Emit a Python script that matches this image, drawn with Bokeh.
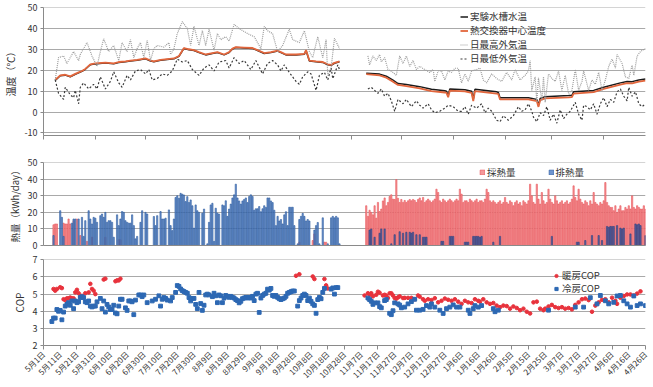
import math
from bokeh.plotting import figure
from bokeh.layouts import column
from bokeh.models import Range1d, FixedTicker, Legend, LegendItem, AllLabels
from bokeh.embed import file_html
from bokeh.resources import INLINE

# ---------------------------------------------------------------
# x axis: day number counted from 5月1日
# ---------------------------------------------------------------
month_start_days = [0, 31, 61, 92, 123, 153, 184, 214, 245, 276, 304, 335]
date_tick_days = list(range(0, 361, 10))
date_tick_labels = ["5月1日", "5月11日", "5月21日", "5月31日", "6月10日", "6月20日",
                    "6月30日", "7月10日", "7月20日", "7月30日", "8月9日", "8月19日",
                    "8月29日", "9月8日", "9月18日", "9月28日", "10月8日", "10月18日",
                    "10月28日", "11月7日", "11月17日", "11月27日", "12月7日", "12月17日",
                    "12月27日", "1月6日", "1月16日", "1月26日", "2月5日", "2月15日",
                    "2月25日", "3月7日", "3月17日", "3月27日", "4月6日", "4月16日", "4月26日"]
temp_ticks = [-10, 0, 10, 20, 30, 40, 50]
temp_tick_labels = ["-10", "0", "10", "20", "30", "40", "50"]

# ---------------------------------------------------------------
# temperatures (℃)
# ---------------------------------------------------------------
hx_day_summer = [7, 10, 13, 16, 19, 21, 23, 25, 28, 31, 35, 37, 42, 45, 49, 52, 56, 61, 64, 66,
                 70, 74, 78, 81, 84, 87, 90, 93, 97, 101, 104, 108, 111, 113, 115, 120, 125, 128,
                 132, 136, 140, 142, 145, 151, 156, 157, 159, 163, 167, 170, 172, 174, 177]
hx_summer = [15.4, 17.6, 17.9, 17.1, 18.3, 19.0, 19.7, 20.7, 22.9, 23.3, 23.6, 23.7, 23.3, 24.0,
             24.3, 24.7, 25.0, 25.7, 24.7, 24.3, 25.0, 25.4, 25.7, 26.9, 30.7, 30.1, 29.7, 28.7,
             27.6, 28.3, 28.7, 27.6, 28.7, 30.4, 31.1, 30.9, 30.7, 29.7, 28.3, 28.7, 29.4, 28.7,
             27.6, 27.6, 27.9, 29.7, 24.7, 24.3, 24.0, 22.9, 22.6, 23.6, 24.3]
tank_summer = [15.2, 17.4, 17.7, 16.9, 18.1, 18.8, 19.5, 20.5, 22.7, 23.1, 23.4, 23.5, 23.1, 23.8,
               24.1, 24.5, 24.8, 25.5, 24.5, 24.1, 24.8, 25.2, 25.5, 26.7, 30.5, 29.9, 29.5, 28.5,
               27.4, 28.1, 28.5, 27.4, 28.5, 30.2, 30.9, 30.7, 30.5, 29.5, 28.1, 28.5, 29.2, 28.5,
               27.4, 27.4, 27.7, 29.5, 24.5, 24.1, 23.8, 22.7, 22.4, 23.4, 24.1]

wt_day_winter = [193, 201, 205, 209, 212, 217, 225, 232, 240, 241, 242, 243, 252, 256, 257, 258,
                 271, 272, 273, 290, 295, 296, 297, 300, 314, 316, 317, 329, 335, 345, 349, 352,
                 356, 360]
tank_winter = [18.6, 18.2, 17.2, 15.3, 13.7, 13.2, 12.2, 10.9, 10.2, 10.0, 7.9, 11.1, 10.7, 10.0,
               6.1, 10.9, 9.7, 9.4, 6.9, 6.9, 6.1, 3.3, 6.5, 7.4, 7.9, 8.0, 9.7, 10.4, 11.9, 14.0,
               14.7, 14.6, 15.4, 15.9]
hx_winter = [18.2, 17.6, 16.5, 14.6, 13.0, 12.4, 11.4, 10.1, 9.4, 9.2, 7.1, 10.3, 9.9, 9.2,
             5.3, 10.1, 8.9, 8.6, 6.1, 6.1, 5.3, 2.5, 5.7, 6.6, 7.1, 7.2, 8.9, 9.6, 11.1, 13.2,
             13.9, 13.8, 14.6, 15.1]

high_day_summer = [7, 9, 12, 14, 18, 21, 22, 24, 26, 29, 32, 34, 36, 39, 42, 45, 47, 50, 52, 54,
                   56, 58, 60, 62, 64, 66, 68, 72, 75, 76, 78, 80, 83, 86, 88, 90, 93, 95, 97, 99,
                   102, 104, 106, 109, 111, 114, 117, 122, 126, 130, 132, 134, 137, 140, 143, 147,
                   149, 153, 156, 159, 161, 164, 167, 169, 170, 172, 174, 177]
high_summer = [15.4, 26.1, 26.9, 23.3, 29.0, 24.7, 27.6, 30.4, 33.3, 26.9, 21.9, 29.0, 35.1, 29.0,
               31.9, 24.7, 33.3, 29.0, 34.7, 26.1, 30.4, 33.3, 26.1, 34.4, 24.7, 30.4, 31.9, 31.1,
               33.3, 27.6, 30.4, 37.6, 43.3, 40.0, 31.9, 41.1, 31.9, 39.0, 31.9, 39.7, 29.7, 37.6,
               34.7, 36.1, 34.0, 42.0, 40.0, 37.6, 36.1, 30.4, 41.1, 39.0, 37.6, 29.0, 31.9, 39.7,
               34.7, 33.3, 39.0, 29.0, 26.1, 36.1, 26.1, 34.7, 17.6, 21.1, 35.4, 30.4]
low_day_summer = [7, 9, 12, 13, 16, 18, 19, 21, 22, 24, 27, 30, 32, 34, 37, 40, 42, 45, 47, 50,
                  52, 55, 58, 61, 63, 65, 68, 71, 74, 77, 80, 83, 86, 89, 93, 96, 99, 102, 105,
                  109, 111, 114, 117, 120, 124, 127, 131, 134, 137, 140, 142, 144, 147, 151, 153,
                  155, 158, 160, 163, 165, 168, 170, 172, 173, 176, 177]
low_summer = [15.4, 9.0, 6.1, 11.9, 8.3, 6.9, 10.4, 4.0, 11.9, 14.0, 11.1, 13.3, 11.1, 16.9,
              11.1, 14.7, 19.3, 14.0, 11.9, 17.6, 15.4, 19.7, 20.4, 18.3, 20.4, 15.4, 16.1, 18.3,
              17.6, 19.7, 25.4, 24.0, 24.7, 20.4, 17.6, 21.1, 22.6, 19.7, 24.0, 24.7, 21.1, 26.1,
              23.3, 24.7, 20.4, 24.7, 18.3, 23.3, 24.7, 22.6, 19.7, 22.6, 19.0, 14.7, 13.3, 16.9,
              19.3, 18.3, 10.4, 17.6, 19.0, 15.4, 21.1, 16.0, 22.6, 20.4]

high_day_winter = [194, 195, 197, 199, 201, 202, 204, 206, 209, 211, 213, 215, 217, 219, 221, 223,
                   225, 228, 231, 233, 234, 236, 238, 240, 242, 244, 246, 248, 250, 252, 254, 256,
                   259, 261, 263, 265, 268, 271, 274, 277, 280, 282, 285, 288, 290, 291, 292, 294,
                   295, 296, 298, 299, 300, 302, 304, 306, 308, 310, 312, 314, 316, 318, 320, 322,
                   323, 326, 328, 330, 332, 334, 336, 338, 340, 342, 343, 346, 348, 350, 352, 353,
                   355, 357, 360]
high_winter = [26.9, 22.6, 26.9, 24.7, 27.6, 24.0, 26.1, 20.4, 19.0, 17.6, 26.9, 23.3, 26.9, 21.9,
               24.7, 20.4, 21.9, 20.4, 19.0, 20.4, 14.7, 19.7, 19.7, 15.4, 19.7, 19.0, 21.0, 21.0,
               14.0, 18.3, 14.7, 19.7, 20.4, 21.1, 15.4, 14.0, 18.3, 16.1, 14.7, 19.0, 15.4, 20.4,
               15.4, 17.6, 19.7, 24.7, 10.4, 16.9, 4.7, 16.4, 5.4, 16.9, 4.7, 18.3, 16.1, 14.7,
               19.7, 10.4, 17.6, 9.0, 10.4, 20.4, 10.4, 14.7, 19.7, 10.4, 15.4, 13.3, 19.0, 10.4,
               15.4, 21.9, 25.4, 21.1, 27.6, 23.3, 16.9, 16.1, 22.4, 17.6, 26.9, 29.0, 30.4]
low_day_winter = [194, 196, 198, 200, 202, 204, 206, 208, 210, 212, 215, 217, 220, 223, 225, 227,
                  230, 232, 234, 237, 240, 242, 245, 248, 250, 252, 254, 256, 259, 262, 264, 266,
                  268, 271, 273, 275, 278, 281, 284, 286, 288, 290, 292, 293, 295, 297, 299, 301,
                  303, 305, 307, 309, 311, 313, 315, 318, 320, 322, 323, 325, 327, 329, 331, 333,
                  335, 337, 339, 341, 343, 345, 347, 349, 350, 352, 354, 356, 358, 360]
low_winter = [11.1, 11.9, 10.4, 9.0, 11.1, 7.6, 9.0, 5.4, 0.4, 6.1, 4.0, 6.1, 2.6, 5.4, 3.3, 1.9,
              4.0, 1.1, -0.3, 0.4, 1.9, 3.3, 2.6, 0.4, 0.4, 2.6, -1.0, 3.3, 1.9, 4.0, -0.3, 1.9,
              0.4, -3.9, -4.6, -1.7, -3.9, -1.7, 2.6, 0.4, 1.1, 4.0, 0.4, -2.4, -4.6, -0.3, -1.7,
              2.6, -3.9, -1.0, -5.3, 1.1, -3.1, -1.0, 0.4, 4.7, -1.0, -3.9, 3.3, 2.6, 1.1, 4.0,
              -1.0, 4.0, 6.9, 2.6, 6.1, 4.7, 9.7, 11.1, 7.6, 5.4, 11.9, 7.6, 9.7, 4.0, 2.6, 4.0]

# ---------------------------------------------------------------
# daily heat (kWh/day)
# ---------------------------------------------------------------
first_day_summer = 6
heat_reject_summer = [
    6, 0, 0, 0, 21, 17, 5.5, 0, 0, 0, 0, 13.5, 16, 16, 0, 16, 0, 17, 5.5, 15,
    0, 21, 16, 13, 17, 16.5, 14, 0, 18, 19, 17, 20, 14, 15, 15, 14, 5, 0, 18.5, 12,
    16, 20.5, 20, 15, 14, 13.5, 13.5, 18.5, 12, 4, 5.5, 0, 14, 21, 0, 20, 19, 0, 0, 0,
    17.5, 12, 18, 0, 20.5, 16, 16, 16.5, 0, 21.5, 12, 9, 16, 29, 30, 28.5, 31.5, 31, 30.5, 26.5,
    29.5, 26, 27.5, 24, 10.5, 24.5, 21, 20, 0, 19.5, 22, 0, 1, 14, 24.5, 25.5, 2.5, 22.5, 19.5, 19,
    0, 24.5,
    24, 27, 17.6, 22, 25, 28.7, 30.6, 37, 28.7, 26.9,
    25, 26.9, 27.8, 28.7, 25.9, 29.6, 30.6, 29.6, 21.3, 22.2,
    22.2, 23.5, 20.4, 22.2, 24, 23, 28.7, 28.7, 26.9, 25.9,
    21.3, 12, 17.6, 14.8, 15.7, 13, 18.5, 20.4, 12, 23.1,
    23.1, 23.1, 12, 0, 1, 15.7, 17.6, 19.4, 17.6, 14.8,
    15.7, 14.8, 0, 0, 9.3, 12, 13.9, 1, 0, 16.7,
    0, 0, 1, 0, 16.7, 17.6, 16.7, 17.6, 16.7, 1]
extract_day_summer = [6, 7, 8, 12, 13, 14, 15, 16, 18, 20, 22, 26, 29, 37, 45, 46,
                      153, 161, 162, 168, 169]
heat_extract_summer = [12.5, 13, 13, 13.5, 13, 13, 16, 13, 15, 16, 6, 2.5, 5, 5, 3.5, 3.5,
                       2, 3, 7, 2, 2]

first_day_winter = 193
heat_extract_winter = [
    24, 17.6, 21.3, 20, 18.5, 24, 16.5, 26, 20.5, 22,
    26.9, 28.7, 24, 26, 29.6, 30.6, 28, 27.8, 39.8, 28.5,
    26, 27.8, 26, 27.2, 26, 27, 27.8, 27, 27.8, 27.2,
    26, 27.8, 28.7, 27, 29, 26, 27,
    28, 27, 26, 27, 28, 34, 32, 27, 26, 28, 27, 26, 27, 28, 27, 26, 27, 28, 27, 34,
    31, 26, 27, 27, 26, 28, 27, 26, 27, 28, 26, 27, 27, 26, 28, 34, 32, 27, 26, 27,
    26, 25, 26, 27, 25, 26, 29, 26, 25, 27, 26, 24, 26, 27, 25, 26, 24, 27, 26, 25,
    27, 37, 30, 26, 25, 37, 28, 25, 32, 27, 25, 26, 34, 28, 26, 25, 30, 27, 25, 26,
    27, 25, 26, 27, 25, 26, 28, 36, 29, 27, 34, 28, 26, 25, 27, 26, 24, 27, 25, 32,
    26, 25, 24, 26, 25, 27, 38, 26, 24, 23, 23, 21, 24, 20, 22, 24, 21, 21, 23, 22,
    24, 22, 30, 23, 22, 24, 23, 22, 22, 24, 22]
heat_reject_winter = [
    0, 0, 9.3, 10, 0, 5, 0, 0, 7.4, 10,
    0, 10, 0, 0, 0, 1, 0, 6.5, 0, 0,
    8.3, 0, 7.4, 0, 8, 0, 8, 7.4, 8, 0,
    6.5, 0, 6.5, 0, 5, 5, 5,
    0, 0, 0, 0, 0, 0, 0, 0, 2.5, 2.5, 0, 0, 0, 5.5, 5.5, 5.5, 0, 0, 0, 0,
    0, 0, 2, 2, 2, 0, 0, 5.5, 5.5, 5.5, 5.5, 5, 5.5, 0, 0, 0, 0, 0, 0, 2,
    0, 0, 0, 5.5, 0, 0, 0, 0, 0, 0, 0, 0, 0, 0, 0, 0, 0, 0, 0, 0,
    0, 0, 0, 0, 0, 0, 0, 0, 0, 0, 0, 0, 0, 0, 5.5, 0, 0, 0, 0, 0,
    0, 0, 0, 0, 0, 0, 0, 0, 0, 2, 2, 0, 0, 0, 3, 0, 0, 0, 6, 0,
    0, 0, 6, 0, 3, 0, 0, 11.5, 11, 11.5, 11.5, 11.5, 0, 12, 0, 10.5, 10, 10.5, 0, 0,
    0, 7, 0, 0, 13, 12.5, 13, 12, 0, 0, 6]

# ---------------------------------------------------------------
# COP
# ---------------------------------------------------------------
heat_cop_day = [6, 7, 8, 10, 11, 12, 13, 14, 15, 16, 17, 18, 19, 20, 21, 22, 23, 25, 27, 28,
                29, 30, 31, 36, 37, 43, 44, 45, 46, 151, 153, 161, 162, 168, 169, 170,
                192, 194, 195, 196, 197, 199, 200, 201, 203, 204, 205, 206, 207, 208, 209, 210,
                211, 212, 213, 215,
                216, 218, 220, 222, 224, 225, 227, 228, 230, 232, 234, 236, 238, 240, 242, 244,
                246, 248, 250, 252, 254, 256, 258, 260, 261, 263, 265, 267, 269, 271, 273, 275,
                277, 279, 281, 283, 285, 287, 289, 291, 293, 295, 297, 299, 300, 302, 304, 306,
                308, 310, 312, 314, 316, 318, 320, 322, 324, 326, 328, 330, 332, 334, 336, 338,
                340, 342, 343, 345, 347, 349, 351, 353, 355, 357, 359]
heat_cop = [5.3, 5.2, 5.3, 5.4, 5.35, 4.7, 4.65, 4.75, 4.75, 4.8, 4.75, 4.75, 5.1, 5.25, 5.05,
            4.85, 4.9, 5.05, 5.1, 5.6, 5.3, 5.2, 5.0, 5.85, 5.9, 5.75, 5.8, 5.8, 5.9,
            6.07, 6.16, 6.03, 5.88, 5.88, 5.51, 5.33,
            4.92, 5.05, 4.96, 5.05, 4.87, 4.96, 5.14, 5.08, 4.92, 4.96, 4.92, 4.77, 5.05, 5.05,
            4.92, 4.77, 4.73, 4.81, 4.87, 4.77,
            4.78, 4.78, 4.78, 4.70, 4.92, 4.85, 4.70, 4.61, 4.70, 4.65, 4.76, 4.52, 4.61, 4.74,
            4.67, 4.61, 4.70, 4.56, 4.43, 4.61, 4.52, 4.48, 4.70, 4.61, 4.56, 4.70, 4.52, 4.43,
            4.48, 4.33, 4.24, 4.33, 4.30, 4.15, 4.28, 4.19, 4.06, 4.15, 3.97, 3.87, 4.52, 4.56,
            4.15, 4.06, 4.15, 4.28, 4.37, 4.24, 4.19, 4.24, 4.15, 4.19, 4.11, 4.37, 4.52, 4.70,
            4.74, 4.65, 3.97, 4.33, 4.52, 4.67, 4.70, 4.52, 4.79, 4.61, 4.43, 4.79, 4.89, 4.98,
            4.98, 4.92, 5.03, 5.16]

cool_cop_day = [5, 6, 7, 8, 9, 10, 11, 12, 13, 14, 15, 16, 17, 18, 19, 20, 21, 22, 23, 24,
                25, 26, 27, 28, 29, 30, 31, 32, 34, 35, 36, 37, 38, 39, 40, 41, 42, 43, 44, 45,
                46, 47, 49, 50, 51, 52, 53, 54, 55, 57, 58, 59, 60, 62, 65, 67, 69, 70, 71, 72,
                73, 74, 76, 77, 79, 80, 81, 82, 83, 84, 85, 86, 87, 88, 89, 90, 91, 92, 93, 94,
                95, 96, 97, 98, 99, 101, 102, 103, 104, 105, 106, 107,
                108, 109, 110, 111, 112, 113, 114, 115, 116, 117, 118, 119, 120, 121, 122, 123,
                124, 125, 126, 127, 128, 129, 130, 131, 132, 133, 134, 135, 136, 137, 138, 139,
                140, 141, 142, 143, 144, 145, 146, 147, 148, 149, 150, 152, 153, 154, 155, 156,
                157, 158, 159, 160, 161, 162, 163, 164, 165, 166, 167, 168, 172, 173, 174, 175, 176,
                194, 195, 196, 197, 198, 200, 201, 202, 204, 205, 207, 208, 209, 210, 212, 213, 214,
                216, 218, 220, 222, 223, 225, 227, 229, 231, 232, 234, 237, 239, 241, 243, 245,
                247, 249, 254, 255, 257, 258, 260, 262, 269, 270, 272, 302, 318, 323, 327, 331,
                333, 336, 338, 341, 343, 345, 347, 349, 351, 353, 355, 357, 360]
cool_cop = [3.4, 3.6, 3.6, 4.1, 4.0, 4.05, 3.5, 3.95, 4.3, 4.4, 4.5, 4.35, 4.6, 4.15, 4.6, 4.5,
            4.55, 4.8, 4.85, 4.8, 4.55, 4.5, 4.6, 4.3, 4.25, 4.3, 4.3, 4.55, 4.75, 4.15, 4.6,
            3.95, 4.4, 4.25, 4.1, 4.1, 4.35, 3.9, 3.85, 4.3, 4.7, 4.7, 4.2, 4.05, 4.6, 4.6, 4.55,
            3.8, 4.65, 4.95, 4.95, 4.85, 4.95, 4.5, 4.6, 4.7, 4.9, 4.3, 4.7, 4.8, 4.75, 4.65,
            4.6, 4.8, 5.1, 5.5, 5.45, 5.3, 5.2, 5.15, 5.1, 5.05, 4.8, 4.6, 4.75, 4.75, 4.4, 4.15,
            5.1, 4.45, 4.05, 4.35, 4.95, 5.0, 4.95, 4.85, 5.05, 4.9, 4.5, 4.95, 4.9, 4.5,
            4.77, 4.92, 4.87, 4.81, 4.87, 4.81, 4.77, 4.68, 4.62, 4.49, 4.58, 4.73, 4.77, 4.81,
            4.77, 4.81, 4.77, 4.87, 4.62, 5.0, 5.05, 3.93, 4.77, 4.92, 5.0, 5.05, 5.29, 5.23,
            5.33, 4.92, 4.87, 4.92, 4.81, 4.73, 4.68, 4.73, 4.77, 4.87, 5.05, 5.1, 5.14, 5.18,
            5.18, 4.3, 4.62, 4.77, 4.92, 5.0, 4.92, 4.62, 4.77, 4.58, 4.43, 4.34, 3.88, 4.68,
            4.81, 4.73, 5.1, 5.33, 5.29, 5.36, 5.0, 5.38, 5.38,
            4.77, 4.68, 4.58, 4.4, 4.49, 4.49, 4.27, 4.2, 4.62, 4.68, 3.88, 3.8, 4.03, 4.49,
            4.43, 4.36, 4.2,
            4.24, 4.43, 4.56, 4.70, 4.06, 4.06, 4.11, 4.33, 4.24, 4.43, 4.24, 4.06, 3.87, 4.15,
            4.24, 4.37, 4.24, 4.24, 4.06, 3.87, 4.15, 4.33, 4.24, 4.33, 4.15, 3.97, 4.06, 4.06,
            4.24, 4.24, 4.79, 4.43, 4.92, 4.61, 4.43, 4.52, 4.89, 4.92, 4.61, 4.43, 4.24, 4.89,
            4.33, 4.43, 4.33]

# ---------------------------------------------------------------
# styling
# ---------------------------------------------------------------
JP = "Noto Sans CJK JP"
GRID = "#A9A9A9"
AXIS = "#8A8A8A"
TXT = "#333333"
ORANGE = "#E2663C"
RED_BAR = "#F39A9A"
RED_EDGE = "#EA5057"
BLUE_BAR = "#5583C8"
BLUE_EDGE = "#2C5A9E"
RED_PT = "#E8323C"
BLUE_PT = "#2D68B3"


def make_fig(height, y0, y1, y_ticks, b_left, b_top, b_bottom, b_right):
    p = figure(width=653, height=height,
               x_range=Range1d(0, 360), y_range=Range1d(y0, y1),
               output_backend="svg", toolbar_location=None,
               min_border_left=b_left, min_border_top=b_top,
               min_border_bottom=b_bottom, min_border_right=b_right)
    p.outline_line_color = None
    p.xgrid.visible = False
    p.ygrid.grid_line_color = GRID
    p.ygrid.grid_line_width = 1
    p.yaxis.ticker = FixedTicker(ticks=y_ticks)
    p.yaxis.major_label_policy = AllLabels()
    for ax in (p.xaxis[0], p.yaxis[0]):
        ax.axis_line_color = AXIS
        ax.major_tick_line_color = AXIS
        ax.minor_tick_line_color = AXIS
        ax.major_tick_in = 0
        ax.minor_tick_in = 0
        ax.major_tick_out = 3
        ax.minor_tick_out = 4
        ax.major_label_standoff = 3
        ax.major_label_text_font = JP
        ax.major_label_text_font_size = "9px"
        ax.major_label_text_color = TXT
        ax.axis_label_text_font = JP
        ax.axis_label_text_font_size = "10px"
        ax.axis_label_text_color = TXT
        ax.axis_label_text_font_style = "normal"
        ax.axis_label_standoff = 3
    return p


def legend(items, loc, orientation="vertical", spacing=0):
    return Legend(items=items, location=loc, orientation=orientation,
                  label_text_font=JP, label_text_font_size="9.5px", label_text_color=TXT,
                  label_text_line_height=1.0,
                  glyph_width=8, glyph_height=11, label_height=11, label_standoff=2,
                  spacing=spacing, padding=0, margin=0,
                  background_fill_alpha=0, border_line_alpha=0)


# ---------------- temperatures ----------------
p1 = make_fig(143, -11.2, 50.1, temp_ticks, 33, 7, 8, 0)
p1.yaxis.axis_label = "温度（℃）"
p1.yaxis.major_label_overrides = {t: s for t, s in zip(temp_ticks, temp_tick_labels)}
p1.xaxis.ticker = FixedTicker(ticks=[], minor_ticks=month_start_days)

r_tank = p1.line(wt_day_winter, tank_winter, line_color="#1A1A1A", line_width=1.5)
p1.line(hx_day_summer, tank_summer, line_color="#1A1A1A", line_width=1.5)
r_hx = p1.line(hx_day_summer, hx_summer, line_color=ORANGE, line_width=1.8)
p1.line(wt_day_winter, hx_winter, line_color=ORANGE, line_width=1.8)
r_high = p1.line(high_day_summer, high_summer, line_color="#9C9C9C", line_width=1.2, line_dash="1 1")
p1.line(high_day_winter, high_winter, line_color="#9C9C9C", line_width=1.2, line_dash="1 1")
r_low = p1.line(low_day_summer, low_summer, line_color="#3A3A3A", line_width=1.2, line_dash="2 2")
p1.line(low_day_winter, low_winter, line_color="#3A3A3A", line_width=1.2, line_dash="2 2")

p1.add_layout(legend([LegendItem(label="実験水槽水温", renderers=[r_tank]),
                      LegendItem(label="熱交換器中心温度", renderers=[r_hx]),
                      LegendItem(label="日最高外気温", renderers=[r_high]),
                      LegendItem(label="日最低外気温", renderers=[r_low])], (417, 70)))

# ---------------- heat ----------------
p2 = make_fig(108, 0, 50.1, [0, 10, 20, 30, 40, 50], 31, 19, 6, 8)
p2.yaxis.axis_label = "熱量（kWh/day）"
p2.yaxis.axis_label_text_font_size = "9.5px"
p2.xaxis.major_tick_out = 0
p2.xaxis.minor_tick_out = 0
p2.xaxis.ticker = FixedTicker(ticks=[])

days_summer = list(range(first_day_summer, first_day_summer + len(heat_reject_summer)))
days_winter = list(range(first_day_winter, first_day_winter + len(heat_extract_winter)))

p2.vbar(x=extract_day_summer, top=heat_extract_summer, width=0.75,
        fill_color=RED_BAR, line_color=RED_EDGE, line_width=0.6)
r_ext = p2.vbar(x=days_winter, top=heat_extract_winter, width=0.75,
                fill_color=RED_BAR, line_color=RED_EDGE, line_width=0.6)
r_rej = p2.vbar(x=days_summer, top=heat_reject_summer, width=0.75,
                fill_color=BLUE_BAR, line_color=BLUE_EDGE, line_width=0.6, fill_alpha=0.85)
p2.vbar(x=days_winter, top=heat_reject_winter, width=0.75,
        fill_color="#3F5FA8", line_color="#2A3F80", line_width=0.6, fill_alpha=0.8)

leg2 = legend([LegendItem(label="採熱量", renderers=[r_ext]),
               LegendItem(label="排熱量", renderers=[r_rej])], (436, 66),
              orientation="horizontal", spacing=32)
leg2.glyph_width = 6
leg2.glyph_height = 6
p2.add_layout(leg2)

# ---------------- COP ----------------
p3 = make_fig(136, 2, 7.02, [2, 3, 4, 5, 6, 7], 31, 8, 40, 8)
p3.yaxis.axis_label = "COP"
p3.xaxis.ticker = FixedTicker(ticks=date_tick_days)
p3.xaxis.major_label_overrides = {d: s for d, s in zip(date_tick_days, date_tick_labels)}
p3.xaxis.major_label_orientation = math.pi / 4
p3.xaxis.major_label_text_font_size = "8px"
p3.xaxis.major_tick_out = 4

r_heat = p3.scatter(heat_cop_day, heat_cop, marker="circle", size=3.6,
                    fill_color=RED_PT, line_color=RED_PT)
r_cool = p3.scatter(cool_cop_day, cool_cop, marker="square", size=3.8,
                    fill_color=BLUE_PT, line_color=BLUE_PT)
p3.add_layout(legend([LegendItem(label="暖房COP", renderers=[r_heat])], (509, 63)))
p3.add_layout(legend([LegendItem(label="冷房COP", renderers=[r_cool])], (509, 50)))

layout = column(p1, p2, p3, spacing=0)

with open("out.html", "w") as f:
    f.write(file_html(layout, INLINE))
